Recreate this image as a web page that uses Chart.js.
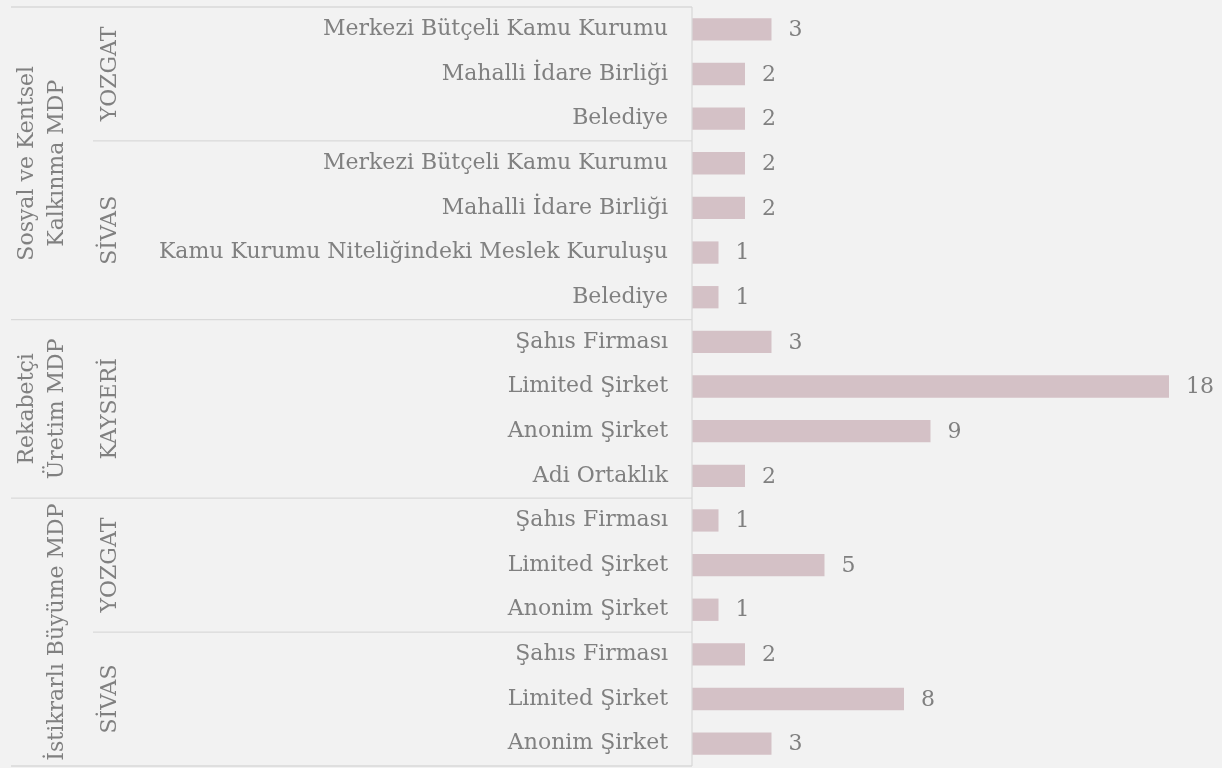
<!DOCTYPE html>
<html>
<head>
    <script src="https://cdn.jsdelivr.net/npm/chart.js@4.4.0/dist/chart.umd.min.js"></script>
    <style>
        body { margin: 0; padding: 0; background: #f2f2f2; overflow: hidden; }
        #chart { display: block; }
    </style>
</head>
<body>
    <canvas id="chart" width="1222" height="768"></canvas>

    <script>
        // top level groups (lines of the rotated label) and how many rows each one covers
        const programs = [['Sosyal ve Kentsel', 'Kalkınma MDP'], ['Rekabetçi', 'Üretim MDP'], ['İstikrarlı Büyüme MDP']];
        const programSpans = [7, 4, 6];

        const regions = ['YOZGAT', 'SİVAS', 'KAYSERİ', 'YOZGAT', 'SİVAS'];
        const regionSpans = [3, 4, 4, 3, 3];

        const categories = [
            'Merkezi Bütçeli Kamu Kurumu', 'Mahalli İdare Birliği', 'Belediye',
            'Merkezi Bütçeli Kamu Kurumu', 'Mahalli İdare Birliği', 'Kamu Kurumu Niteliğindeki Meslek Kuruluşu', 'Belediye',
            'Şahıs Firması', 'Limited Şirket', 'Anonim Şirket', 'Adi Ortaklık',
            'Şahıs Firması', 'Limited Şirket', 'Anonim Şirket',
            'Şahıs Firması', 'Limited Şirket', 'Anonim Şirket'
        ];
        const counts = [3, 2, 2, 2, 2, 1, 1, 3, 18, 9, 2, 1, 5, 1, 2, 8, 3];

        const FONT = 'DejaVu Serif';
        const TEXT = '#808080';
        const LINE = '#d9d9d9';

        // boundary between row i-1 and row i
        function edge(y, i) {
            const band = y.getPixelForValue(1) - y.getPixelForValue(0);
            return y.getPixelForValue(i) - band / 2;
        }

        const hierarchy = {
            id: 'hierarchy',
            afterDraw(chart) {
                const ctx = chart.ctx;
                const y = chart.scales.y;
                const right = chart.chartArea.left;
                const top = chart.chartArea.top, bottom = chart.chartArea.bottom;

                ctx.save();
                ctx.strokeStyle = LINE;
                ctx.lineWidth = 1.3;
                const hline = (x0, yy) => { ctx.beginPath(); ctx.moveTo(x0, yy); ctx.lineTo(right, yy); ctx.stroke(); };

                hline(11, top);
                hline(11, bottom);
                ctx.beginPath(); ctx.moveTo(right, top); ctx.lineTo(right, bottom); ctx.stroke();

                // program separators + labels
                ctx.fillStyle = TEXT;
                ctx.font = '22px "' + FONT + '"';
                ctx.textAlign = 'center';
                ctx.textBaseline = 'middle';
                let start = 0;
                programSpans.forEach((span, g) => {
                    if (g > 0) hline(11, edge(y, start));
                    const yc = (edge(y, start) + edge(y, start + span)) / 2;
                    const lines = programs[g];
                    lines.forEach((t, k) => {
                        const x = 57 - (lines.length - 1 - k) * 29.5;
                        ctx.save();
                        ctx.translate(x, yc);
                        ctx.rotate(-Math.PI / 2);
                        ctx.fillText(t, 0, 0);
                        ctx.restore();
                    });
                    start += span;
                });

                // region separators + labels
                start = 0;
                let progEnds = [];
                programSpans.reduce((a, s) => { progEnds.push(a + s); return a + s; }, 0);
                regionSpans.forEach((span, r) => {
                    if (r > 0 && !progEnds.includes(start)) hline(93, edge(y, start));
                    const yc = (edge(y, start) + edge(y, start + span)) / 2;
                    ctx.save();
                    ctx.translate(110, yc);
                    ctx.rotate(-Math.PI / 2);
                    ctx.fillText(regions[r], 0, 0);
                    ctx.restore();
                    start += span;
                });
                ctx.restore();
            },
            afterDatasetsDraw(chart) {
                const ctx = chart.ctx;
                const meta = chart.getDatasetMeta(0);
                ctx.save();
                ctx.fillStyle = TEXT;
                ctx.font = '22px "' + FONT + '"';
                ctx.textAlign = 'left';
                ctx.textBaseline = 'middle';
                meta.data.forEach((bar, i) => {
                    ctx.fillText(counts[i], bar.x + 17, bar.y + 1);
                });
                ctx.restore();
            }
        };

        new Chart(document.getElementById('chart'), {
            type: 'bar',
            data: {
                labels: categories,
                datasets: [{
                    data: counts,
                    backgroundColor: '#d4c1c6',
                    borderWidth: 0,
                    barPercentage: 0.5,
                    categoryPercentage: 1
                }]
            },
            options: {
                indexAxis: 'y',
                responsive: false,
                animation: false,
                layout: { padding: { top: 7, bottom: 2, right: 53, left: 0 } },
                plugins: {
                    legend: { display: false },
                    tooltip: { enabled: false }
                },
                scales: {
                    x: { min: 0, max: 18, display: false },
                    y: {
                        grid: { display: false },
                        border: { display: false },
                        ticks: {
                            color: TEXT,
                            font: { family: FONT, size: 22 },
                            padding: 16,
                            autoSkip: false
                        },
                        afterFit(scale) {
                            scale.width = 692;
                            scale.paddingTop = 0;
                            scale.paddingBottom = 0;
                        }
                    }
                }
            },
            plugins: [hierarchy]
        });
    </script>
</body>
</html>
